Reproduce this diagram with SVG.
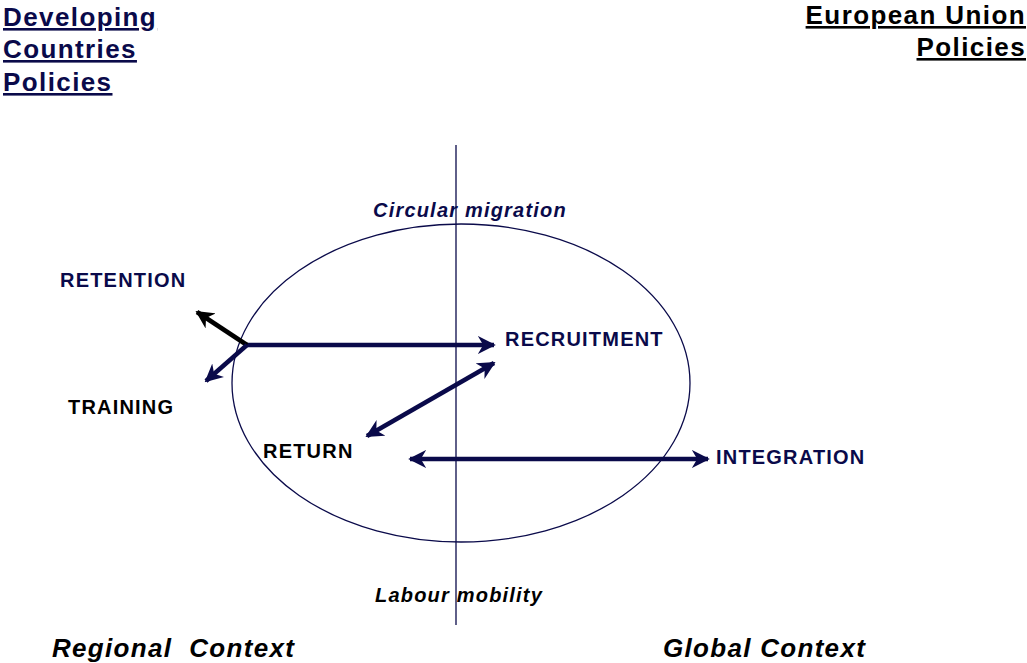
<svg xmlns="http://www.w3.org/2000/svg" width="1027" height="663" viewBox="0 0 1027 663">
<style>
text{font-family:"Liberation Sans",Arial,sans-serif;font-weight:bold}
.h{font-size:26px;text-decoration:underline;letter-spacing:1.4px}
.n{fill:#0a0a4a}
.k{fill:#000}
.lbl{font-size:20px;letter-spacing:1.2px}
.it{font-style:italic}
.ctx{font-size:26px;font-style:italic;letter-spacing:1.3px;white-space:pre}
.ar{stroke-width:4.5;fill:none}
</style>
<defs>
<marker id="an" viewBox="0 0 10 10" refX="9" refY="5" markerWidth="4" markerHeight="4" orient="auto-start-reverse" markerUnits="strokeWidth"><path d="M0,0 L10,5 L0,10 L3,5 Z" fill="#0a0a4a"/></marker>
<marker id="ak" viewBox="0 0 10 10" refX="9" refY="5" markerWidth="4" markerHeight="4" orient="auto-start-reverse" markerUnits="strokeWidth"><path d="M0,0 L10,5 L0,10 L3,5 Z" fill="#000"/></marker>
</defs>
<rect width="1027" height="663" fill="#fff"/>
<g id="headers">
<text class="h n" x="3" y="26">Developing</text>
<text class="h n" x="3" y="58">Countries</text>
<text class="h n" x="3" y="91">Policies</text>
<text class="h k" x="1026" y="24" text-anchor="end">European Union</text>
<text class="h k" x="1026" y="56" text-anchor="end">Policies</text>
</g>
<g id="circle-frame">
<ellipse cx="461" cy="383" rx="229" ry="159" fill="none" stroke="#0a0a4a" stroke-width="1.3"/>
<line x1="456" y1="145" x2="456" y2="625" stroke="#0a0a4a" stroke-width="1.3"/>
<text class="lbl n it" x="373" y="217">Circular migration</text>
<text class="lbl k it" x="375" y="602">Labour mobility</text>
</g>
<g id="connectors">
<line class="ar" x1="247" y1="345" x2="494" y2="345" stroke="#0a0a4a" marker-end="url(#an)"/>
<line class="ar" x1="247" y1="345" x2="197" y2="312" stroke="#000" marker-end="url(#ak)"/>
<line class="ar" x1="247" y1="345" x2="206" y2="381" stroke="#0a0a4a" marker-end="url(#an)"/>
<line class="ar" x1="367" y1="436" x2="494" y2="363" stroke="#0a0a4a" marker-start="url(#an)" marker-end="url(#an)"/>
<line class="ar" x1="410" y1="459" x2="708" y2="459" stroke="#0a0a4a" marker-start="url(#an)" marker-end="url(#an)"/>
</g>
<g id="retention"><text class="lbl n" x="60" y="287">RETENTION</text></g>
<g id="training"><text class="lbl k" x="68" y="414">TRAINING</text></g>
<g id="recruitment"><text class="lbl n" x="505" y="346">RECRUITMENT</text></g>
<g id="return"><text class="lbl k" x="263" y="458">RETURN</text></g>
<g id="integration"><text class="lbl n" x="716" y="464">INTEGRATION</text></g>
<g id="contexts">
<text class="ctx k" x="52" y="657" xml:space="preserve">Regional  Context</text>
<text class="ctx k" x="663" y="657">Global Context</text>
</g>
</svg>
